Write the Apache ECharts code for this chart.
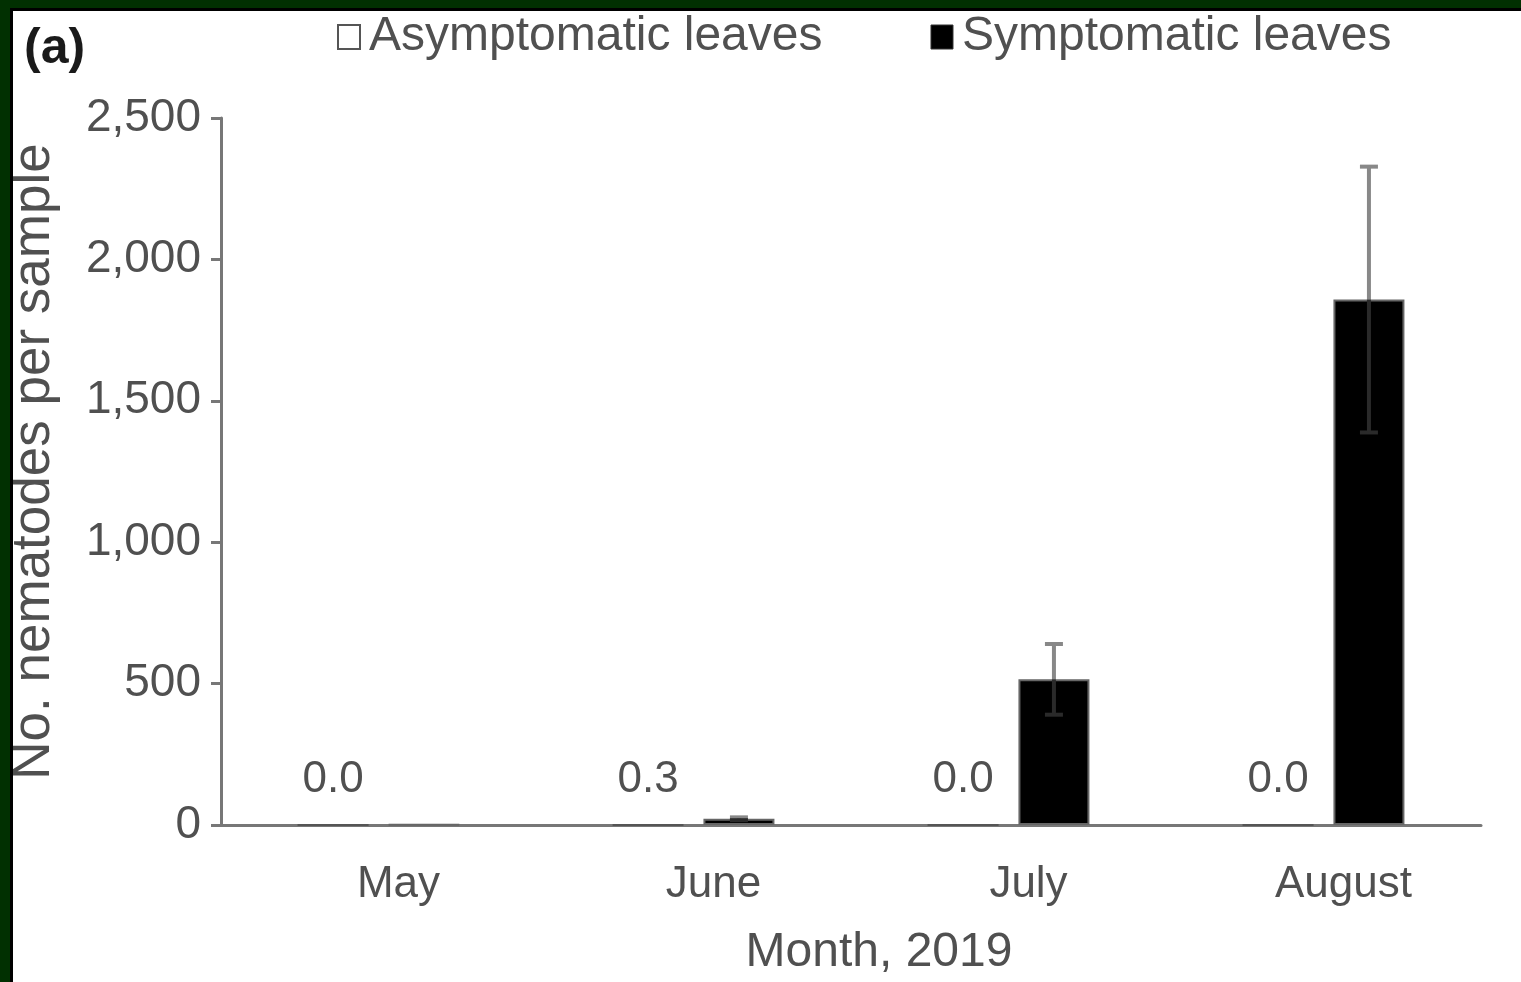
<!DOCTYPE html>
<html>
<head>
<meta charset="utf-8">
<script src="https://cdn.jsdelivr.net/npm/echarts@6/dist/echarts.min.js"></script>
<style>
html,body{margin:0;padding:0;background:#fff;overflow:hidden;}
#chart{width:1521px;height:982px;}
</style>
</head>
<body>
<div id="chart"></div>
<script>
const months = ['May', 'June', 'July', 'August'];
const asymptomatic = [0.0, 0.3, 0.0, 0.0];
const symptomatic = [1, 22, 515, 1858];
const symptomaticErr = [0, 5, 125, 470];
const yTicks = [0, 500, 1000, 1500, 2000, 2500];

const BAR_W = 71;
const GAP_RATIO = 0.28;
const FONT = '"Liberation Sans", Arial, sans-serif';
const TXT = '#505050';

const errData = symptomatic.map((v, i) => [i, v, symptomaticErr[i]]);

const chart = echarts.init(document.getElementById('chart'), null, {renderer: 'canvas'});
chart.setOption({
  animation: false,
  backgroundColor: '#ffffff',
  textStyle: {fontFamily: FONT},
  graphic: [
    {type: 'rect', shape: {x: 0, y: 0, width: 1521, height: 8}, style: {fill: '#013001'}, z: 100},
    {type: 'rect', shape: {x: 0, y: 8, width: 1521, height: 3}, style: {fill: '#000'}, z: 100},
    {type: 'rect', shape: {x: 0, y: 0, width: 10, height: 982}, style: {fill: '#013001'}, z: 100},
    {type: 'rect', shape: {x: 10, y: 8, width: 3, height: 974}, style: {fill: '#000'}, z: 100},
    {type: 'text', left: 24, top: 24, style: {text: '(a)', font: 'bold 50px ' + FONT, fill: '#1a1a1a'}, z: 100}
  ],
  legend: {
    left: 332, top: 8,
    icon: 'rect', itemWidth: 22, itemHeight: 24, itemGap: 108,
    textStyle: {fontSize: 48, color: TXT, fontFamily: FONT, padding: [0, 0, 0, 4]},
    data: [
      {name: 'Asymptomatic leaves', itemStyle: {color: '#fff', borderColor: '#555', borderWidth: 2}},
      {name: 'Symptomatic leaves', itemStyle: {color: '#000', borderColor: '#333', borderWidth: 1}}
    ]
  },
  grid: {left: 220, right: 40, top: 118, bottom: 137, containLabel: false},
  xAxis: {
    type: 'category',
    data: months,
    axisLine: {show: true, lineStyle: {color: '#777', width: 3}},
    axisTick: {show: false},
    axisLabel: {fontSize: 44, color: TXT, margin: 38, fontFamily: FONT, padding: [0, 0, 0, 40]},
    name: 'Month, 2019',
    nameLocation: 'middle',
    nameGap: 104,
    nameTextStyle: {fontSize: 48, color: TXT, fontFamily: FONT, padding: [0, 0, 0, 56]}
  },
  yAxis: {
    type: 'value',
    min: 0, max: 2500, interval: 500,
    axisLine: {show: true, lineStyle: {color: '#777', width: 3}},
    axisTick: {show: true, length: 10, lineStyle: {color: '#777', width: 3}},
    splitLine: {show: false},
    axisLabel: {
      fontSize: 46, color: TXT, margin: 20, fontFamily: FONT,
      formatter: v => yTicks.includes(v) ? v.toLocaleString('en-US') : ''
    },
    name: 'No. nematodes per sample',
    nameLocation: 'middle',
    nameGap: 160,
    nameRotate: 90,
    nameTextStyle: {fontSize: 53, color: TXT, fontFamily: FONT, padding: [0, 0, 0, 20]}
  },
  series: [
    {
      name: 'Asymptomatic leaves',
      type: 'bar',
      data: asymptomatic,
      barWidth: BAR_W,
      barGap: (GAP_RATIO * 100) + '%',
      itemStyle: {color: '#fff', borderColor: '#555', borderWidth: 2},
      label: {
        show: true, position: 'top', distance: 22,
        fontSize: 44, color: TXT, fontFamily: FONT,
        formatter: p => p.value.toFixed(1)
      }
    },
    {
      name: 'Symptomatic leaves',
      type: 'bar',
      data: symptomatic,
      barWidth: BAR_W,
      barGap: (GAP_RATIO * 100) + '%',
      itemStyle: {color: '#000', borderColor: '#666', borderWidth: 2}
    },
    {
      type: 'custom',
      name: 'err',
      data: errData,
      z: 10,
      silent: true,
      renderItem: function (params, api) {
        const i = api.value(0), v = api.value(1), e = api.value(2);
        if (!e) return null;
        const off = (BAR_W + BAR_W * GAP_RATIO) / 2;
        const c = api.coord([i, v]);
        const hi = api.coord([i, v + e]);
        const lo = api.coord([i, v - e]);
        const x = c[0] + off;
        const cap = 9;
        return {
          type: 'group',
          children: [
            {type: 'line', shape: {x1: x, y1: c[1], x2: x, y2: hi[1]}, style: {stroke: '#888', lineWidth: 4}},
            {type: 'line', shape: {x1: x - cap, y1: hi[1], x2: x + cap, y2: hi[1]}, style: {stroke: '#888', lineWidth: 4}},
            {type: 'line', shape: {x1: x, y1: c[1], x2: x, y2: lo[1]}, style: {stroke: '#2a2a2a', lineWidth: 4}},
            {type: 'line', shape: {x1: x - cap, y1: lo[1], x2: x + cap, y2: lo[1]}, style: {stroke: '#2a2a2a', lineWidth: 4}}
          ]
        };
      }
    }
  ]
});
</script>
</body>
</html>
